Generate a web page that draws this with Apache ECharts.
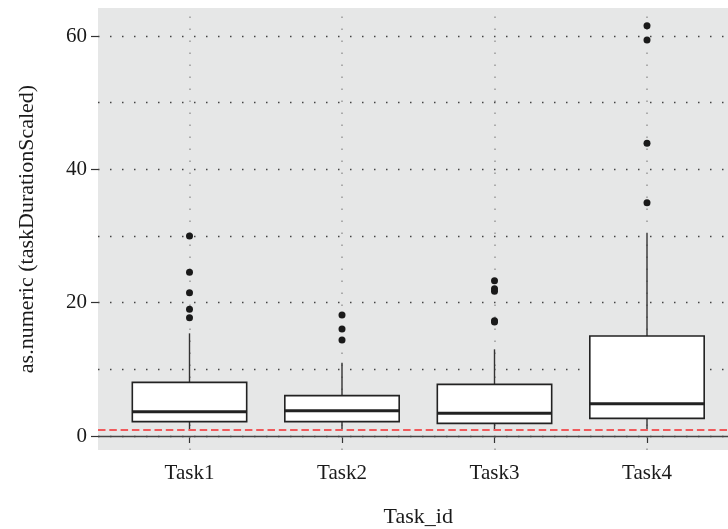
<!DOCTYPE html>
<html>
<head>
<meta charset="utf-8">
<script src="https://cdn.jsdelivr.net/npm/echarts@6/dist/echarts.min.js"></script>
<style>html,body{margin:0;padding:0;background:#fff;}#chart{width:728px;height:529px;}</style>
</head>
<body>
<div id="chart"></div>
<script>
const categories = ['Task1', 'Task2', 'Task3', 'Task4'];
const whiskerLow = [1.0, 1.0, 1.0, 1.0];
const q1 = [2.15, 2.15, 1.9, 2.65];
const median = [3.65, 3.8, 3.4, 4.85];
const q3 = [8.05, 6.05, 7.75, 15.0];
const whiskerHigh = [15.4, 11.0, 13.0, 30.4];
const outliers = [
  [30.0, 24.55, 21.5, 19.0, 17.75],
  [18.15, 16.05, 14.4],
  [23.3, 22.1, 21.7, 17.3, 17.1],
  [61.55, 59.4, 43.9, 35.0]
];
const yTicks = [0, 20, 40, 60];
const yMinorGrid = [10, 30, 50];
const refLine = 1;
const zeroLine = 0;

const FONT = 'Liberation Serif';
const boxData = categories.map((c, i) => [i + 1, whiskerLow[i], q1[i], median[i], q3[i], whiskerHigh[i]]);
const outlierData = [];
outliers.forEach((arr, i) => arr.forEach(v => outlierData.push([i + 1, v])));
const xPositions = categories.map((c, i) => i + 1);

const dotH = { color: '#444', width: 1.3, type: [1.5, 10.5] };
const dotV = { color: '#999', width: 1.5, type: [1.5, 10.5] };

const chart = echarts.init(document.getElementById('chart'), null, { renderer: 'canvas' });
chart.setOption({
  animation: false,
  backgroundColor: '#ffffff',
  grid: { left: 98, top: 8, width: 640.5, height: 442, show: true, backgroundColor: '#e6e7e7', borderWidth: 0, containLabel: false, outerBoundsMode: 'none' },
  xAxis: {
    type: 'value', min: 0.4, max: 4.6,
    name: 'Task_id', nameLocation: 'middle', nameGap: 56,
    nameTextStyle: { fontFamily: FONT, fontSize: 22, color: '#1a1a1a' },
    axisLine: { show: false },
    axisTick: { show: true, length: 7, customValues: xPositions, lineStyle: { color: '#333', width: 1.2 } },
    axisLabel: { customValues: xPositions, margin: 13, fontFamily: FONT, fontSize: 21, color: '#1a1a1a',
      formatter: v => categories[Math.round(v) - 1] || '' },
    splitLine: { show: false }
  },
  yAxis: {
    type: 'value', min: -2.1, max: 64.2,
    name: 'as.numeric (taskDurationScaled)', nameLocation: 'middle', nameGap: 60, nameRotate: 90,
    nameTextStyle: { fontFamily: FONT, fontSize: 22, color: '#1a1a1a' },
    axisLine: { show: false },
    axisTick: { show: true, length: 7, customValues: yTicks, lineStyle: { color: '#333', width: 1.2 } },
    axisLabel: { customValues: yTicks, margin: 11, fontFamily: FONT, fontSize: 21, color: '#1a1a1a' },
    splitLine: { show: false }
  },
  series: [
    {
      type: 'scatter', data: [], z: 1, silent: true,
      markLine: {
        silent: true, symbol: 'none', z: 1, animation: false,
        label: { show: false },
        data: [
          ...xPositions.map(v => ({ xAxis: v, lineStyle: dotV })),
          ...yTicks.map(v => ({ yAxis: v, lineStyle: dotH })),
          ...yMinorGrid.map(v => ({ yAxis: v, lineStyle: dotH })),
          { yAxis: zeroLine, lineStyle: { color: '#444', width: 1.3, type: 'solid' } }
        ]
      }
    },
    {
      type: 'custom', z: 10, data: boxData,
      encode: { x: 0, y: [1, 2, 3, 4, 5] },
      renderItem: function (params, api) {
        const x = api.value(0);
        const lo = api.coord([x, api.value(1)]);
        const b = api.coord([x, api.value(2)]);
        const md = api.coord([x, api.value(3)]);
        const t = api.coord([x, api.value(4)]);
        const hi = api.coord([x, api.value(5)]);
        const w = api.size([0.75, 0])[0];
        return {
          type: 'group',
          children: [
            { type: 'line', shape: { x1: lo[0], y1: lo[1], x2: b[0], y2: b[1] }, style: { stroke: '#333', lineWidth: 1.4 } },
            { type: 'line', shape: { x1: t[0], y1: t[1], x2: hi[0], y2: hi[1] }, style: { stroke: '#333', lineWidth: 1.4 } },
            { type: 'rect', shape: { x: t[0] - w / 2, y: t[1], width: w, height: b[1] - t[1] }, style: { fill: '#ffffff', stroke: '#222', lineWidth: 1.6 } },
            { type: 'line', shape: { x1: md[0] - w / 2, y1: md[1], x2: md[0] + w / 2, y2: md[1] }, style: { stroke: '#222', lineWidth: 3 } }
          ]
        };
      }
    },
    {
      type: 'scatter', z: 12, data: outlierData, symbol: 'circle', symbolSize: 7,
      itemStyle: { color: '#1a1a1a', opacity: 1 },
      markLine: {
        silent: true, symbol: 'none', z: 13, animation: false,
        label: { show: false },
        data: [{ yAxis: refLine, lineStyle: { color: '#f05a5c', width: 2, type: [7.5, 3.8] } }]
      }
    }
  ]
});
</script>
</body>
</html>
